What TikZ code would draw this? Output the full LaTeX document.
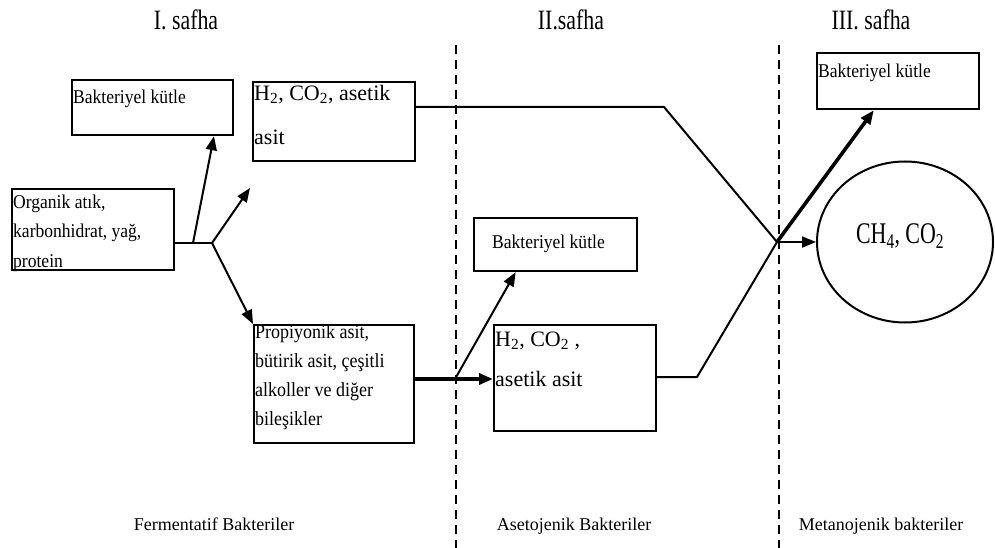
\documentclass[tikz,border=0pt]{standalone}
\usepackage{graphicx}
\usepackage{fontspec}
\setmainfont{Liberation Serif}
\newfontfamily\cfont{Liberation Serif}[FakeStretch=0.9]
\usetikzlibrary{arrows.meta,calc,shapes.geometric}
\newcommand\sqztext[3]{\scalebox{#1}[1]{\fontsize{#2}{#2}\selectfont #3}}
\begin{document}
\begin{tikzpicture}[x=1pt,y=-1pt,
  box/.style={draw,line width=2.2pt,inner sep=0pt,anchor=north west},
  txt/.style={anchor=north west,align=left,inner sep=0pt},
  conn/.style={line width=2pt},
  arr/.style={line width=2pt,-{Triangle[length=14pt,width=11pt]}},
  thickarr/.style={line width=3.6pt,-{Triangle[length=14pt,width=11pt]}},
  divider/.style={line width=1.5pt,dash pattern=on 9pt off 6pt},
  title/.style={anchor=base},
  foot/.style={anchor=base,font=\fontsize{18}{18}\selectfont}]
\useasboundingbox (0,0) rectangle (995,548);

% phase titles
\node[title] (t1) at (186,30) {\sqztext{0.78}{28}{I. safha}};
\node[title] (t2) at (571,30) {\sqztext{0.78}{28}{II.safha}};
\node[title] (t3) at (871,30) {\sqztext{0.78}{28}{III. safha}};

% dividers
\draw[divider] (456,45) -- (456,548);
\draw[divider] (779,45) -- (779,548);

% boxes
\node[box,minimum width=161pt,minimum height=55pt] (b1) at (71,79) {};
\node[box,minimum width=162pt,minimum height=79pt] (h2top) at (252,81) {};
\node[box,minimum width=162pt,minimum height=81pt] (org) at (11,188) {};
\node[box,minimum width=160pt,minimum height=118pt] (prop) at (253,324) {};
\node[box,minimum width=163pt,minimum height=53pt] (b2) at (473,217) {};
\node[box,minimum width=162pt,minimum height=106pt] (h2low) at (493,324) {};
\node[box,minimum width=162pt,minimum height=56pt] (b3) at (816,52) {};
\node[draw,ellipse,line width=2pt,minimum width=176pt,minimum height=161pt,inner sep=0pt] (ell) at (905,242) {};

% box texts
\node[txt,font=\cfont\fontsize{19.5}{24}\selectfont] (b1t) at (73,89.5) {Bakteriyel kütle};
\node[txt,font=\cfont\fontsize{19.5}{24}\selectfont] (b3t) at (818,63.5) {Bakteriyel kütle};
\node[anchor=base,inner sep=0pt,font=\cfont\fontsize{19.5}{24}\selectfont] (b2t) at (548.5,248) {Bakteriyel kütle};
\node[txt,font=\cfont\fontsize{19.5}{29.5}\selectfont] (orgt) at (13,194.5) {Organik atık,\\karbonhidrat, yağ,\\protein};
\node[txt,font=\cfont\fontsize{20}{29}\selectfont] (propt) at (255,324.5) {Propiyonik asit,\\bütirik asit, çeşitli\\alkoller ve diğer\\bileşikler};
\node[txt,font=\fontsize{22}{44}\selectfont] (h2topt) at (254,85) {H\textsubscript{2}, CO\textsubscript{2}, asetik\\asit};
\node[txt,font=\fontsize{22}{40}\selectfont] (h2lowt) at (495,332) {H\textsubscript{2}, CO\textsubscript{2} ,\\asetik asit};
\node[inner sep=0pt] (ellt) at (900,236) {\sqztext{0.73}{30}{CH\textsubscript{4}, CO\textsubscript{2}}};

% junction coordinates
\coordinate (j0) at (193,243);
\coordinate (j1) at (212,243);
\coordinate (f1) at (250,188);
\coordinate (j2) at (455,379);
\coordinate (k1) at (664,107);
\coordinate (k2) at (697,377);
\coordinate (X) at (777,242);

% connectors
\draw[conn] (org.east |- j1) -- (j1);
\draw[arr] (j0) -- ($(b1.south west)!0.876!(b1.south east)$);
\draw[arr] (j1) -- (f1);
\draw[arr] (j1) -- (prop.north west);
\draw[thickarr] (prop.east |- j2) -- (h2low.west |- j2);
\draw[arr] (j2) -- ($(b2.south west)!0.258!(b2.south east)$);
\draw[conn,line join=round] (h2top.east |- k1) -- (k1) -- (X);
\draw[conn,line join=round] (h2low.east |- k2) -- (k2) -- (X);
\draw[arr] (X) -- (ell.west);
\draw[thickarr] (X) -- ($(b3.south west)!0.352!(b3.south east)$);

% bacteria labels
\node[foot] (f1t) at (214,530) {Fermentatif Bakteriler};
\node[foot] (f2t) at (574,530) {Asetojenik Bakteriler};
\node[foot] (f3t) at (881,530) {Metanojenik bakteriler};
\end{tikzpicture}
\end{document}
